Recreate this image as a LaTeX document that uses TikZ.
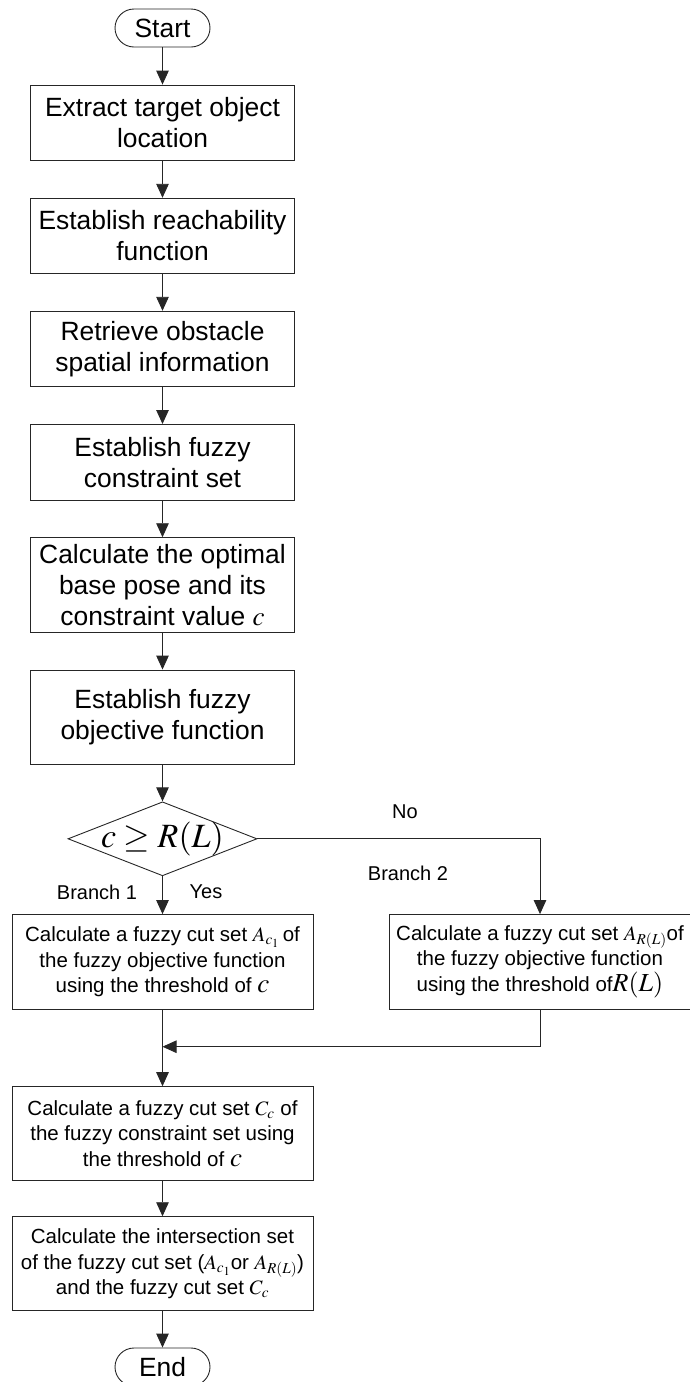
\documentclass[tikz,border=0pt]{standalone}
\usepackage{mathptmx}
\usepackage[no-math]{fontspec}
\setmainfont{Liberation Sans}
\usepackage{tikz}
\usetikzlibrary{arrows.meta, shapes.geometric}

\newcommand{\stepfont}{\fontsize{26.4}{31}\selectfont}
\newcommand{\cutfont}{\fontsize{20.5}{25.5}\selectfont}
\newcommand{\valc}{{\fontsize{27}{27}\selectfont$c$}}
\newcommand{\valR}{{\fontsize{26}{26}\selectfont$R(L)$}}

\begin{document}
\begin{tikzpicture}[x=1pt,y=-1pt,
	line/.style={draw=black!85,line width=0.9pt},
	arr/.style={line,-{Triangle[length=14pt,width=12.5pt]}},
	term/.style={line,rounded corners=19pt,minimum width=95pt,minimum height=38pt,inner sep=0pt,font=\stepfont},
	proc/.style={line,rectangle,minimum width=264pt,minimum height=75.5pt,align=center,inner sep=0pt,font=\stepfont},
	cutbox/.style={line,rectangle,minimum width=301pt,minimum height=94.5pt,align=center,inner sep=0pt,font=\cutfont},
	dec/.style={line,diamond,minimum width=189pt,minimum height=74pt,inner sep=0pt},
	lab/.style={font=\fontsize{20}{24}\selectfont}]
\useasboundingbox (0,0) rectangle (689,1382);

% main column
\node[term] (st) at (162.5,28) {Start};
\node[proc] (S1) at (162.5,122.8) {Extract target object\\location};
\node[proc] (S2) at (162.5,236) {Establish reachability\\function};
\node[proc] (S3) at (162.5,349) {Retrieve obstacle\\spatial information};
\node[proc] (S4) at (162.5,462.2) {Establish fuzzy\\constraint set};
\node[proc,minimum height=94.6pt] (S5) at (162.5,585) {Calculate the optimal\\base pose and its\\constraint value \valc};
\node[proc,minimum height=94pt] (S6) at (162.5,717) {Establish fuzzy\\objective function};
\node[dec,label={center:\fontsize{34}{40}\selectfont$c\geq R(L)$}] (D) at (162.5,838.8) {};

% both branches
\node[cutbox] (C1) at (162.5,961.8) {Calculate a fuzzy cut set $A_{c_1}$\,of\\the fuzzy objective function\\using the threshold of \valc};
\node[cutbox] (C2) at (540,961.8) {Calculate a fuzzy cut set $A_{R(L)}$of\\the fuzzy objective function\\using the threshold of\valR};
\coordinate (M) at (162.5,1046.7);

\node[cutbox,minimum height=93.3pt] (S7) at (162.5,1133.3) {Calculate a fuzzy cut set $C_c$ of\\the fuzzy constraint set using\\the threshold of \valc};
\node[cutbox,minimum height=94pt] (S8) at (162.5,1263.7) {Calculate the intersection set\\of the fuzzy cut set ($A_{c_1}$or $A_{R(L)}$)\\and the fuzzy cut set $C_c$};
\node[term] (en) at (162.5,1367) {End};

\node[lab] (no) at (405,812) {No};
\node[lab] (br2) at (408,873) {Branch 2};
\node[lab] (br1) at (97,892) {Branch 1};
\node[lab] (yes) at (206,892) {Yes};

\foreach \a/\b in {st/S1,S1/S2,S2/S3,S3/S4,S4/S5,S5/S6,S6/D,D/C1,C1/S7,S7/S8,S8/en}
	\draw[arr] (\a) -- (\b);
\draw[arr] (D.east) -| (C2.north);
\draw[arr] (C2.south) |- (M);
\end{tikzpicture}
\end{document}
